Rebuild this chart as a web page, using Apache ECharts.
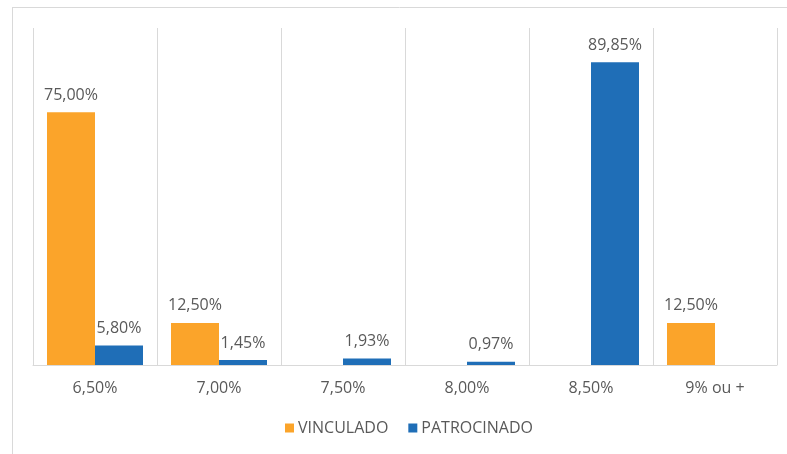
<!DOCTYPE html>
<html>
<head>
<meta charset="utf-8">
<script src="https://cdn.jsdelivr.net/npm/echarts@6/dist/echarts.min.js"></script>
<style>
  html, body { margin: 0; padding: 0; background: #fff; }
  #chart { width: 787px; height: 454px; }
</style>
</head>
<body>
<div id="chart"></div>
<script>
  // faixas de taxa
  var categories = ['6,50%', '7,00%', '7,50%', '8,00%', '8,50%', '9% ou +'];
  var vinculado = [75.00, 12.50, 0, 0, 0, 12.50];
  var patrocinado = [5.80, 1.45, 1.93, 0.97, 89.85, 0];

  var textColor = '#595959';
  var fontFamily = '"Open Sans", sans-serif';

  function pct(p) {
    if (!p.value) return '';
    return p.value.toFixed(2).replace('.', ',') + '%';
  }

  var myChart = echarts.init(document.getElementById('chart'));
  myChart.setOption({
    animation: false,
    color: ['#FBA42A', '#1F6EB7'],
    textStyle: { fontFamily: fontFamily },
    graphic: [
      { type: 'line', shape: { x1: 12, y1: 7.5, x2: 787, y2: 7.5 }, style: { stroke: '#d9d9d9', lineWidth: 1 } },
      { type: 'line', shape: { x1: 12.5, y1: 7, x2: 12.5, y2: 454 }, style: { stroke: '#d9d9d9', lineWidth: 1 } }
    ],
    legend: {
      bottom: 13,
      left: 280,
      itemWidth: 9,
      itemHeight: 9,
      itemGap: 20,
      icon: 'rect',
      textStyle: { color: textColor, fontSize: 16, padding: [0, 0, 0, -1] },
      data: ['VINCULADO', 'PATROCINADO']
    },
    grid: { left: 33, right: 10, top: 28, bottom: 89 },
    xAxis: {
      type: 'category',
      data: categories,
      axisLine: { lineStyle: { color: '#d9d9d9' } },
      axisTick: { show: false },
      axisLabel: { color: textColor, fontSize: 16, margin: 15 },
      splitLine: { show: true, lineStyle: { color: '#d9d9d9' } }
    },
    yAxis: {
      type: 'value',
      min: 0,
      max: 100,
      show: false,
      splitLine: { show: false }
    },
    series: [
      {
        name: 'VINCULADO',
        type: 'bar',
        barWidth: 48,
        barGap: '0%',
        data: vinculado,
        label: { show: true, position: 'top', distance: 9, color: textColor, fontSize: 16, formatter: pct }
      },
      {
        name: 'PATROCINADO',
        type: 'bar',
        barWidth: 48,
        barGap: '0%',
        data: patrocinado,
        label: { show: true, position: 'top', distance: 9, color: textColor, fontSize: 16, formatter: pct }
      }
    ]
  });
</script>
</body>
</html>
